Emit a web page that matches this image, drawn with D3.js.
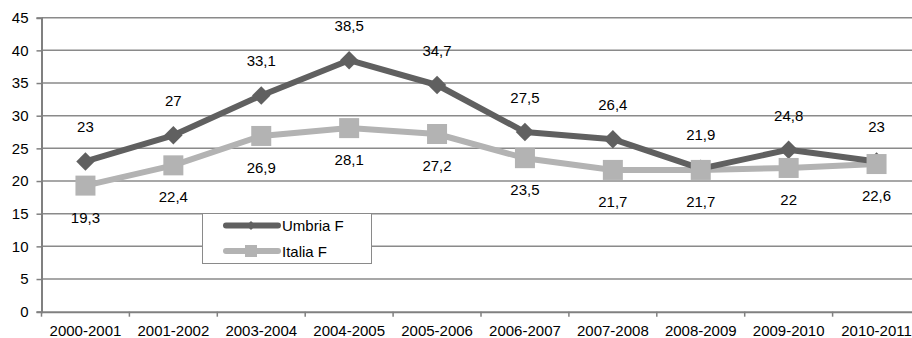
<!DOCTYPE html>
<html>
<head>
<meta charset="utf-8">
<script src="https://cdn.jsdelivr.net/npm/d3@7/dist/d3.min.js"></script>
<style>
  html, body { margin: 0; padding: 0; background: #fff; overflow: hidden; }
  svg { display: block; font-family: "Liberation Sans", Arial, sans-serif; }
</style>
</head>
<body>
<svg id="chart" width="912" height="338"></svg>
<script>
const categories = ["2000-2001", "2001-2002", "2003-2004", "2004-2005", "2005-2006",
                    "2006-2007", "2007-2008", "2008-2009", "2009-2010", "2010-2011"];
const umbriaF = [23, 27, 33.1, 38.5, 34.7, 27.5, 26.4, 21.9, 24.8, 23];
const italiaF = [19.3, 22.4, 26.9, 28.1, 27.2, 23.5, 21.7, 21.7, 22, 22.6];
const yTicks = [0, 5, 10, 15, 20, 25, 30, 35, 40, 45];
const seriesNames = ["Umbria F", "Italia F"];

const svg = d3.select("#chart");
const plotLeft = 41.5, plotRight = 920.5, plotTop = 17.7, plotBottom = 311.7;
const fontSize = 15;

const x = d3.scaleBand().domain(categories).range([plotLeft, plotRight]).paddingInner(0).paddingOuter(0);
const y = d3.scaleLinear().domain([0, 45]).range([plotBottom, plotTop]);
const fmt = v => String(v).replace(".", ",");

// horizontal gridlines
svg.append("g").selectAll("line").data(yTicks.filter(t => t > 0)).join("line")
  .attr("x1", plotLeft).attr("x2", plotRight)
  .attr("y1", d => y(d)).attr("y2", d => y(d))
  .attr("stroke", "#8a8a8a").attr("stroke-width", 1.5);

// y axis
const yAxis = svg.append("g").attr("transform", `translate(${plotLeft},0)`)
  .call(d3.axisLeft(y).tickValues(yTicks).tickSize(5).tickPadding(8));
yAxis.select(".domain").attr("stroke", "#808080").attr("stroke-width", 2);
yAxis.selectAll(".tick line").attr("stroke", "#808080").attr("stroke-width", 1.5);
yAxis.selectAll("text").attr("font-size", fontSize).attr("fill", "#000")
  .attr("font-family", "Liberation Sans, Arial, sans-serif");

// x axis with ticks at category boundaries
const xAxis = svg.append("g").attr("transform", `translate(0,${plotBottom})`)
  .call(d3.axisBottom(x).tickSize(0).tickPadding(14));
xAxis.select(".domain").attr("stroke", "#808080").attr("stroke-width", 2);
xAxis.selectAll("text").attr("font-size", fontSize).attr("fill", "#000")
  .attr("font-family", "Liberation Sans, Arial, sans-serif");
svg.append("g").selectAll("line").data(d3.range(categories.length + 1)).join("line")
  .attr("x1", i => plotLeft + i * x.step()).attr("x2", i => plotLeft + i * x.step())
  .attr("y1", plotBottom).attr("y2", plotBottom + 5)
  .attr("stroke", "#808080").attr("stroke-width", 1.5);

const cx = d => x(d) + x.bandwidth() / 2;
const line = vals => d3.line().x((v, i) => cx(categories[i])).y(v => y(v))(vals);

const darkCol = "#606060", lightCol = "#b3b3b3";

// Italia F series (behind)
svg.append("path").attr("d", line(italiaF)).attr("fill", "none")
  .attr("stroke", lightCol).attr("stroke-width", 6).attr("stroke-linejoin", "round");
// Umbria F series
svg.append("path").attr("d", line(umbriaF)).attr("fill", "none")
  .attr("stroke", darkCol).attr("stroke-width", 6).attr("stroke-linejoin", "round");

const diamond = d3.symbol().type(d3.symbolSquare).size(170);
svg.append("g").selectAll("path").data(umbriaF).join("path")
  .attr("d", diamond)
  .attr("transform", (v, i) => `translate(${cx(categories[i])},${y(v)}) rotate(45)`)
  .attr("fill", darkCol);

svg.append("g").selectAll("rect").data(italiaF).join("rect")
  .attr("x", (v, i) => cx(categories[i]) - 10).attr("y", v => y(v) - 10)
  .attr("width", 20).attr("height", 20).attr("fill", lightCol);

// value labels
svg.append("g").selectAll("text").data(umbriaF).join("text")
  .attr("x", (v, i) => cx(categories[i])).attr("y", v => y(v) - 29)
  .attr("text-anchor", "middle").attr("font-size", fontSize).text(fmt);
svg.append("g").selectAll("text").data(italiaF).join("text")
  .attr("x", (v, i) => cx(categories[i])).attr("y", v => y(v) + 37)
  .attr("text-anchor", "middle").attr("font-size", fontSize).text(fmt);

// legend
const lg = svg.append("g");
lg.append("rect").attr("x", 202.5).attr("y", 213.5).attr("width", 169).attr("height", 50)
  .attr("fill", "#fff").attr("stroke", "#8a8a8a").attr("stroke-width", 1);
const legendRows = [
  { name: seriesNames[0], col: darkCol, yy: 225.5, shape: "diamond" },
  { name: seriesNames[1], col: lightCol, yy: 251, shape: "square" }
];
legendRows.forEach(r => {
  lg.append("line").attr("x1", 226).attr("x2", 278).attr("y1", r.yy).attr("y2", r.yy)
    .attr("stroke", r.col).attr("stroke-width", 6).attr("stroke-linecap", "round");
  if (r.shape === "diamond") {
    lg.append("path").attr("d", d3.symbol().type(d3.symbolSquare).size(40))
      .attr("transform", `translate(251,${r.yy}) rotate(45)`).attr("fill", r.col);
  } else {
    lg.append("rect").attr("x", 245).attr("y", r.yy - 6).attr("width", 12).attr("height", 12)
      .attr("fill", r.col);
  }
  lg.append("text").attr("x", 282).attr("y", r.yy + 5.5).attr("font-size", fontSize).text(r.name);
});
</script>
</body>
</html>
